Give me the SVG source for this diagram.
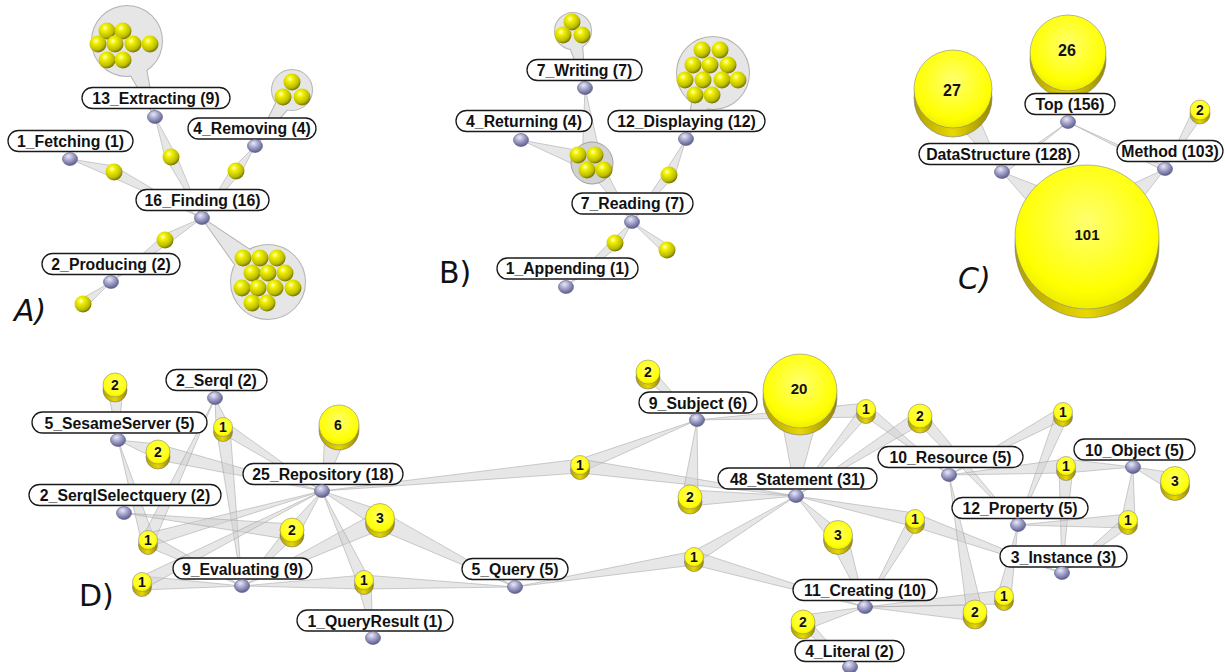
<svg xmlns="http://www.w3.org/2000/svg" xmlns:xlink="http://www.w3.org/1999/xlink" width="1225" height="672" viewBox="0 0 1225 672">
<style>
.lab rect{fill:#fff;stroke:#1a1a1a;stroke-width:1.3}
.lab text,.num,.pl{font-family:"Liberation Sans",Arial,sans-serif;font-weight:bold;text-anchor:middle;fill:#111}
.lab text{font-size:15.8px}
.num{font-size:14px}
.pl{font-family:"DejaVu Sans",sans-serif;font-weight:normal;font-size:30px;text-anchor:start}
.w{fill:#d0d0d0;fill-opacity:.5;stroke:#999;stroke-opacity:.6;stroke-width:.8}
.bo{fill:#b4b4b4;stroke:#b4b4b4;stroke-width:2}
.bf{fill:#e6e6e6}
.bd{fill:#d2d2d2;stroke:#a0a0a0;stroke-width:1}
</style>
<defs>
<radialGradient id="gs" cx="0.38" cy="0.32" r="0.7"><stop offset="0" stop-color="#ffffd0"/><stop offset="0.25" stop-color="#f2f200"/><stop offset="0.75" stop-color="#bcbc00"/><stop offset="1" stop-color="#6e6e00"/></radialGradient>
<radialGradient id="gn" cx="0.4" cy="0.3" r="0.75"><stop offset="0" stop-color="#e8e8f8"/><stop offset="0.5" stop-color="#9a9ac4"/><stop offset="1" stop-color="#555585"/></radialGradient>
<radialGradient id="gt" cx="0.5" cy="0.4" r="0.6"><stop offset="0" stop-color="#ffff70"/><stop offset="0.8" stop-color="#ffff00"/><stop offset="1" stop-color="#eeee00"/></radialGradient>
<linearGradient id="gb" x1="0" y1="0" x2="1" y2="0"><stop offset="0" stop-color="#b0a000"/><stop offset="0.5" stop-color="#e8d800"/><stop offset="1" stop-color="#988800"/></linearGradient>
<ellipse id="bn" rx="7.5" ry="6.5" fill="url(#gn)" stroke="#55557f" stroke-width=".6"/>
<circle id="s" r="8.5" fill="url(#gs)"/>
<g id="c9"><circle cy="5" r="9.5" fill="url(#gb)" stroke="#777" stroke-width=".6"/><circle r="9.5" fill="url(#gt)" stroke="#888" stroke-width=".6"/></g>
<g id="c12"><circle cy="5" r="12" fill="url(#gb)" stroke="#777" stroke-width=".6"/><circle r="12" fill="url(#gt)" stroke="#888" stroke-width=".6"/></g>
<g id="c14"><circle cy="5" r="14.5" fill="url(#gb)" stroke="#777" stroke-width=".6"/><circle r="14.5" fill="url(#gt)" stroke="#888" stroke-width=".6"/></g>
<g id="c20"><circle cy="5" r="20" fill="url(#gb)" stroke="#777" stroke-width=".6"/><circle r="20" fill="url(#gt)" stroke="#888" stroke-width=".6"/></g>
<g id="c37"><circle cy="7" r="37" fill="url(#gb)" stroke="#777" stroke-width=".6"/><circle r="37" fill="url(#gt)" stroke="#888" stroke-width=".6"/></g>
<g id="c10"><circle cy="4" r="10" fill="url(#gb)" stroke="#777" stroke-width=".6"/><circle r="10" fill="url(#gt)" stroke="#888" stroke-width=".6"/></g>
<g id="bA1"><circle cx="127" cy="41" r="35"/><polygon points="155,117 140,36 114,46"/></g>
<g id="bA2"><circle cx="292" cy="90" r="20"/><polygon points="255,146 300,95 285,85"/></g>
<g id="bA3"><circle cx="268" cy="282" r="37"/><polygon points="202,218 256,294 280,270"/></g>
<g id="bB1"><circle cx="573" cy="31" r="18"/><polygon points="585,88 581,29 565,33"/></g>
<g id="bB2"><circle cx="713" cy="73" r="36"/><polygon points="686,139 728,79 698,67"/></g>
</defs>
<rect width="1225" height="672" fill="#fff"/>

<g id="connectors">
<use href="#bA1" class="bo"/><use href="#bA1" class="bf"/>
<use href="#bA2" class="bo"/><use href="#bA2" class="bf"/>
<use href="#bA3" class="bo"/><use href="#bA3" class="bf"/>
<use href="#bB1" class="bo"/><use href="#bB1" class="bf"/>
<use href="#bB2" class="bo"/><use href="#bB2" class="bf"/>
<polygon class="w" points="70,159 114,166 114,178"/>
<polygon class="w" points="202,218 114,166 114,178"/>
<polygon class="w" points="155,117 165,157 177,157"/>
<polygon class="w" points="202,218 165,157 177,157"/>
<polygon class="w" points="255,146 230,171 242,171"/>
<polygon class="w" points="202,218 230,171 242,171"/>
<polygon class="w" points="202,218 165,234 165,246"/>
<polygon class="w" points="111,282 165,234 165,246"/>
<polygon class="w" points="111,282 83,298 83,310"/>
<polygon class="w" points="585,88 582,163 602,163"/>
<polygon class="w" points="521,140 592,153 592,173"/>
<polygon class="w" points="632,222 582,163 602,163"/>
<circle class="bd" cx="592" cy="163" r="21"/>
<polygon class="w" points="686,139 663,175 675,175"/>
<polygon class="w" points="632,222 663,175 675,175"/>
<polygon class="w" points="632,222 609,243 621,243"/>
<polygon class="w" points="566,287 615,237 615,249"/>
<polygon class="w" points="632,222 667,244 667,256"/>
<polygon class="w" points="1068,122 1000,170 1004,174"/>
<polygon class="w" points="1068,122 1164,166 1166,172"/>
<polygon class="w" points="1068,122 1050,60 1086,60"/>
<polygon class="w" points="1002,172 935,100 971,100"/>
<polygon class="w" points="1002,172 1087,205 1087,269"/>
<polygon class="w" points="1165,169 1087,205 1087,269"/>
<polygon class="w" points="1165,169 1193,110 1207,110"/>
<polygon class="w" points="118,440 107,387 123,387"/>
<polygon class="w" points="118,440 158,444 158,460"/>
<polygon class="w" points="322,491 158,444 158,460"/>
<polygon class="w" points="215,398 216,427 230,427"/>
<polygon class="w" points="322,491 223,420 223,434"/>
<polygon class="w" points="242,586 216,427 230,427"/>
<polygon class="w" points="322,491 325,427 351,427"/>
<polygon class="w" points="118,440 141,540 155,540"/>
<polygon class="w" points="215,398 141,540 155,540"/>
<polygon class="w" points="322,491 148,533 148,547"/>
<polygon class="w" points="242,586 148,533 148,547"/>
<polygon class="w" points="124,513 292,524 292,540"/>
<polygon class="w" points="322,491 284,532 300,532"/>
<polygon class="w" points="242,586 284,532 300,532"/>
<polygon class="w" points="242,586 142,576 142,590"/>
<polygon class="w" points="322,491 142,576 142,590"/>
<polygon class="w" points="322,491 380,510 380,530"/>
<polygon class="w" points="242,586 380,510 380,530"/>
<polygon class="w" points="515,587 380,510 380,530"/>
<polygon class="w" points="322,491 357,582 371,582"/>
<polygon class="w" points="242,586 364,575 364,589"/>
<polygon class="w" points="515,587 364,575 364,589"/>
<polygon class="w" points="373,638 357,582 371,582"/>
<polygon class="w" points="322,491 580,459 580,473"/>
<polygon class="w" points="697,420 580,459 580,473"/>
<polygon class="w" points="796,496 580,459 580,473"/>
<polygon class="w" points="697,420 648,365 648,381"/>
<polygon class="w" points="796,496 778,400 822,400"/>
<polygon class="w" points="697,420 866,403 866,417"/>
<polygon class="w" points="796,496 859,410 873,410"/>
<polygon class="w" points="949,475 866,403 866,417"/>
<polygon class="w" points="796,496 920,409 920,425"/>
<polygon class="w" points="1018,525 912,417 928,417"/>
<polygon class="w" points="697,420 682,498 698,498"/>
<polygon class="w" points="796,496 690,490 690,506"/>
<polygon class="w" points="515,587 694,551 694,565"/>
<polygon class="w" points="796,496 694,551 694,565"/>
<polygon class="w" points="865,607 694,551 694,565"/>
<polygon class="w" points="796,496 828,537 848,537"/>
<polygon class="w" points="865,607 828,537 848,537"/>
<polygon class="w" points="796,496 915,513 915,527"/>
<polygon class="w" points="865,607 908,520 922,520"/>
<polygon class="w" points="1062,573 915,513 915,527"/>
<polygon class="w" points="949,475 1063,406 1063,420"/>
<polygon class="w" points="1018,525 1056,413 1070,413"/>
<polygon class="w" points="949,475 1066,459 1066,473"/>
<polygon class="w" points="1133,467 1066,459 1066,473"/>
<polygon class="w" points="1062,573 1059,466 1073,466"/>
<polygon class="w" points="1133,467 1175,473 1175,493"/>
<polygon class="w" points="1018,525 1128,514 1128,528"/>
<polygon class="w" points="1133,467 1121,521 1135,521"/>
<polygon class="w" points="1062,573 1128,514 1128,528"/>
<polygon class="w" points="865,607 1004,590 1004,604"/>
<polygon class="w" points="1018,525 997,597 1011,597"/>
<polygon class="w" points="865,607 975,605 975,621"/>
<polygon class="w" points="949,475 967,613 983,613"/>
<polygon class="w" points="865,607 803,615 803,631"/>
<polygon class="w" points="850,667 795,623 811,623"/>
</g>

<g id="clA-extracting">
<use href="#s" x="107" y="31"/><use href="#s" x="123" y="31"/><use href="#s" x="98" y="44"/><use href="#s" x="115" y="44"/><use href="#s" x="133" y="44"/><use href="#s" x="150" y="44"/><use href="#s" x="107" y="60"/><use href="#s" x="123" y="60"/>
</g>
<g id="clA-removing"><use href="#s" x="292" y="82"/><use href="#s" x="283" y="97"/><use href="#s" x="302" y="97"/></g>
<g id="clA-finding">
<use href="#s" x="243" y="258"/><use href="#s" x="260" y="258"/><use href="#s" x="277" y="258"/>
<use href="#s" x="252" y="273"/><use href="#s" x="268" y="273"/><use href="#s" x="285" y="273"/>
<use href="#s" x="242" y="288"/><use href="#s" x="258" y="288"/><use href="#s" x="275" y="288"/><use href="#s" x="293" y="288"/>
<use href="#s" x="252" y="303"/><use href="#s" x="267" y="303"/>
</g>
<g id="clA-single"><use href="#s" x="114" y="172"/><use href="#s" x="171" y="157"/><use href="#s" x="236" y="171"/><use href="#s" x="165" y="240"/><use href="#s" x="83" y="304"/></g>
<g id="clB-writing"><use href="#s" x="572" y="22"/><use href="#s" x="563" y="35"/><use href="#s" x="582" y="35"/></g>
<g id="clB-displaying">
<use href="#s" x="702" y="50"/><use href="#s" x="720" y="50"/>
<use href="#s" x="693" y="65"/><use href="#s" x="710" y="65"/><use href="#s" x="728" y="65"/>
<use href="#s" x="685" y="80"/><use href="#s" x="703" y="80"/><use href="#s" x="722" y="80"/><use href="#s" x="738" y="80"/>
<use href="#s" x="695" y="95"/><use href="#s" x="712" y="95"/>
</g>
<g id="clB-shared"><use href="#s" x="578" y="155"/><use href="#s" x="595" y="155"/><use href="#s" x="587" y="170"/><use href="#s" x="604" y="170"/></g>
<g id="clB-single"><use href="#s" x="669" y="175"/><use href="#s" x="615" y="243"/><use href="#s" x="667" y="250"/></g>

<g id="clC-27"><circle cx="953" cy="98" r="39" fill="url(#gb)" stroke="#777" stroke-width=".6"/><circle cx="953" cy="89" r="39" fill="url(#gt)" stroke="#888" stroke-width=".6"/><text class="num" x="952" y="96" style="font-size:16px">27</text></g>
<g id="clC-26"><circle cx="1068" cy="60" r="38" fill="url(#gb)" stroke="#777" stroke-width=".6"/><circle cx="1068" cy="53" r="38" fill="url(#gt)" stroke="#888" stroke-width=".6"/><text class="num" x="1067" y="56" style="font-size:16px">26</text></g>
<g id="clC-2"><use href="#c10" x="1200" y="110"/><text class="num" x="1200" y="115">2</text></g>
<g id="clC-101"><circle cx="1087" cy="246" r="72" fill="url(#gb)" stroke="#777" stroke-width=".6"/><circle cx="1087" cy="237" r="72" fill="url(#gt)" stroke="#888" stroke-width=".6"/><text class="num" x="1087" y="240" style="font-size:15px">101</text></g>

<g id="d1"><use href="#c12" x="115" y="385"/><text class="num" x="115" y="390">2</text></g>
<g id="d2"><use href="#c12" x="158" y="452"/><text class="num" x="158" y="457">2</text></g>
<g id="d3"><use href="#c9" x="223" y="427"/><text class="num" x="223" y="432">1</text></g>
<g id="d4"><use href="#c20" x="339" y="425"/><text class="num" x="338" y="430">6</text></g>
<g id="d5"><use href="#c9" x="148" y="540"/><text class="num" x="148" y="545">1</text></g>
<g id="d6"><use href="#c12" x="292" y="530"/><text class="num" x="292" y="535">2</text></g>
<g id="d7"><use href="#c9" x="142" y="582"/><text class="num" x="142" y="587">1</text></g>
<g id="d8"><use href="#c14" x="380" y="518"/><text class="num" x="380" y="523">3</text></g>
<g id="d9"><use href="#c9" x="364" y="580"/><text class="num" x="364" y="585">1</text></g>
<g id="d10"><use href="#c9" x="580" y="465"/><text class="num" x="580" y="470">1</text></g>
<g id="d11"><use href="#c12" x="648" y="372"/><text class="num" x="648" y="377">2</text></g>
<g id="d12"><use href="#c37" x="800" y="391"/><text class="num" x="799" y="394" style="font-size:15px">20</text></g>
<g id="d13"><use href="#c9" x="866" y="409"/><text class="num" x="866" y="414">1</text></g>
<g id="d14"><use href="#c12" x="920" y="416"/><text class="num" x="920" y="421">2</text></g>
<g id="d15"><use href="#c12" x="690" y="497"/><text class="num" x="690" y="502">2</text></g>
<g id="d16"><use href="#c9" x="694" y="557"/><text class="num" x="694" y="562">1</text></g>
<g id="d17"><use href="#c14" x="838" y="535"/><text class="num" x="838" y="540">3</text></g>
<g id="d18"><use href="#c9" x="915" y="519"/><text class="num" x="915" y="524">1</text></g>
<g id="d19"><use href="#c9" x="1063" y="412"/><text class="num" x="1063" y="417">1</text></g>
<g id="d20"><use href="#c9" x="1066" y="466"/><text class="num" x="1066" y="471">1</text></g>
<g id="d21"><use href="#c14" x="1175" y="481"/><text class="num" x="1175" y="486">3</text></g>
<g id="d22"><use href="#c9" x="1128" y="520"/><text class="num" x="1128" y="525">1</text></g>
<g id="d23"><use href="#c9" x="1004" y="596"/><text class="num" x="1004" y="601">1</text></g>
<g id="d24"><use href="#c12" x="975" y="612"/><text class="num" x="975" y="617">2</text></g>
<g id="d25"><use href="#c12" x="803" y="622"/><text class="num" x="803" y="627">2</text></g>

<g id="A-extracting" class="lab"><rect x="82" y="87.5" width="148" height="21" rx="10.5"/><text x="156" y="103.5">13_Extracting (9)</text><use href="#bn" x="155" y="117"/></g>
<g id="A-removing" class="lab"><rect x="188" y="118" width="128" height="21" rx="10.5"/><text x="252" y="134">4_Removing (4)</text><use href="#bn" x="255" y="146"/></g>
<g id="A-fetching" class="lab"><rect x="8" y="130.5" width="125" height="21" rx="10.5"/><text x="70.5" y="146.5">1_Fetching (1)</text><use href="#bn" x="70" y="159"/></g>
<g id="A-finding" class="lab"><rect x="136" y="189.5" width="133" height="21" rx="10.5"/><text x="202.5" y="206">16_Finding (16)</text><use href="#bn" x="202" y="218"/></g>
<g id="A-producing" class="lab"><rect x="42" y="253.5" width="138" height="21" rx="10.5"/><text x="111" y="269.5">2_Producing (2)</text><use href="#bn" x="111" y="282"/></g>
<g id="B-writing" class="lab"><rect x="527" y="59.5" width="115" height="21" rx="10.5"/><text x="584.5" y="76">7_Writing (7)</text><use href="#bn" x="585" y="88"/></g>
<g id="B-returning" class="lab"><rect x="456" y="110.5" width="136" height="21" rx="10.5"/><text x="524" y="126.5">4_Returning (4)</text><use href="#bn" x="521" y="140"/></g>
<g id="B-displaying" class="lab"><rect x="608" y="110.5" width="157" height="21" rx="10.5"/><text x="686.5" y="126.5">12_Displaying (12)</text><use href="#bn" x="686" y="139"/></g>
<g id="B-reading" class="lab"><rect x="572" y="193" width="121" height="21" rx="10.5"/><text x="632.5" y="209">7_Reading (7)</text><use href="#bn" x="632" y="222"/></g>
<g id="B-appending" class="lab"><rect x="497" y="258" width="141" height="21" rx="10.5"/><text x="567.5" y="274">1_Appending (1)</text><use href="#bn" x="566" y="287"/></g>
<g id="C-top" class="lab"><rect x="1025" y="93.5" width="90" height="21" rx="10.5"/><text x="1070" y="109.5">Top (156)</text><use href="#bn" x="1068" y="122"/></g>
<g id="C-datastructure" class="lab"><rect x="919" y="143.5" width="160" height="21" rx="10.5"/><text x="999" y="159.5">DataStructure (128)</text><use href="#bn" x="1002" y="172"/></g>
<g id="C-method" class="lab"><rect x="1117" y="140.5" width="106" height="21" rx="10.5"/><text x="1170" y="156.5">Method (103)</text><use href="#bn" x="1165" y="169"/></g>
<g id="D-serql" class="lab"><rect x="166" y="369.5" width="101" height="21" rx="10.5"/><text x="216.5" y="386">2_Serql (2)</text><use href="#bn" x="215" y="398"/></g>
<g id="D-sesameserver" class="lab"><rect x="32" y="412" width="175" height="21" rx="10.5"/><text x="119.5" y="428.5">5_SesameServer (5)</text><use href="#bn" x="118" y="440"/></g>
<g id="D-repository" class="lab"><rect x="243" y="463.5" width="160" height="21" rx="10.5"/><text x="323" y="480">25_Repository (18)</text><use href="#bn" x="322" y="491"/></g>
<g id="D-serqlselectquery" class="lab"><rect x="29" y="484.5" width="192" height="21" rx="10.5"/><text x="125" y="501">2_SerqlSelectquery (2)</text><use href="#bn" x="124" y="513"/></g>
<g id="D-evaluating" class="lab"><rect x="173" y="558" width="139" height="21" rx="10.5"/><text x="242.5" y="574.5">9_Evaluating (9)</text><use href="#bn" x="242" y="586"/></g>
<g id="D-query" class="lab"><rect x="462" y="558.5" width="106" height="21" rx="10.5"/><text x="515" y="575">5_Query (5)</text><use href="#bn" x="515" y="587"/></g>
<g id="D-queryresult" class="lab"><rect x="297" y="610" width="156" height="21" rx="10.5"/><text x="375" y="626.5">1_QueryResult (1)</text><use href="#bn" x="373" y="638"/></g>
<g id="D-subject" class="lab"><rect x="639" y="392" width="118" height="21" rx="10.5"/><text x="698" y="408.5">9_Subject (6)</text><use href="#bn" x="697" y="420"/></g>
<g id="D-statement" class="lab"><rect x="718" y="468" width="159" height="21" rx="10.5"/><text x="797.5" y="484.5">48_Statement (31)</text><use href="#bn" x="796" y="496"/></g>
<g id="D-resource" class="lab"><rect x="878" y="446.5" width="145" height="21" rx="10.5"/><text x="950.5" y="463">10_Resource (5)</text><use href="#bn" x="949" y="475"/></g>
<g id="D-object" class="lab"><rect x="1074" y="439" width="121" height="21" rx="10.5"/><text x="1134.5" y="455.5">10_Object (5)</text><use href="#bn" x="1133" y="467"/></g>
<g id="D-property" class="lab"><rect x="952" y="497.5" width="136" height="21" rx="10.5"/><text x="1020" y="514">12_Property (5)</text><use href="#bn" x="1018" y="525"/></g>
<g id="D-instance" class="lab"><rect x="1000" y="546" width="127" height="21" rx="10.5"/><text x="1063.5" y="562.5">3_Instance (3)</text><use href="#bn" x="1062" y="573"/></g>
<g id="D-creating" class="lab"><rect x="793" y="579.5" width="144" height="21" rx="10.5"/><text x="865" y="596">11_Creating (10)</text><use href="#bn" x="865" y="607"/></g>
<g id="D-literal" class="lab"><rect x="795" y="640.5" width="109" height="21" rx="10.5"/><text x="849.5" y="657">4_Literal (2)</text><use href="#bn" x="850" y="667"/></g>

<g id="panel-letters">
<text class="pl" x="14" y="321" font-style="italic">A)</text>
<text class="pl" x="439" y="283">B)</text>
<text class="pl" x="958" y="289" font-style="italic">C)</text>
<text class="pl" x="79" y="606">D)</text>
</g>
</svg>
